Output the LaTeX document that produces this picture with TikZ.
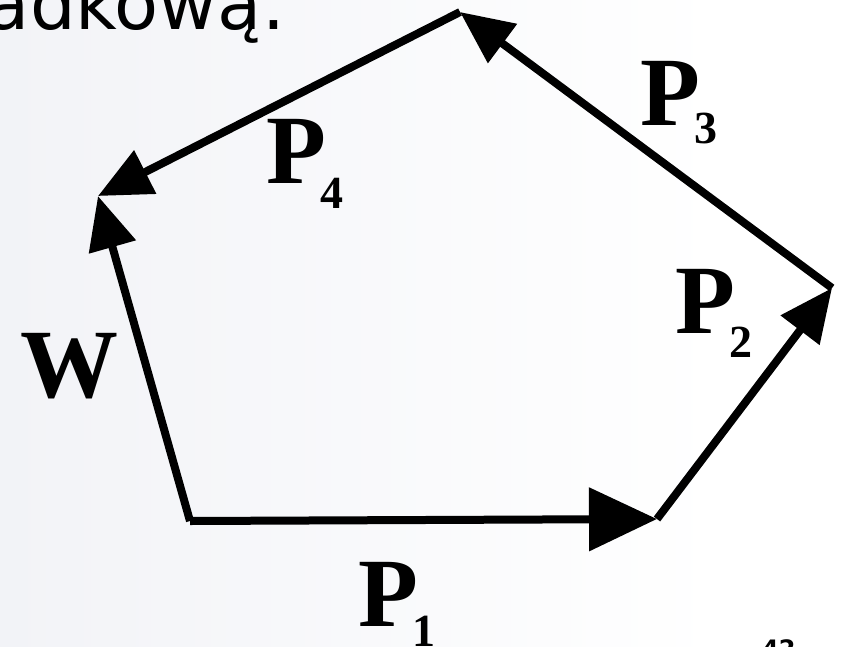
\documentclass[tikz,border=0pt]{standalone}
\usepackage{fontspec}
\usetikzlibrary{arrows.meta}
\newfontfamily\labfont{Liberation Serif}
\newfontfamily\txtfont{DejaVu Sans}
\definecolor{bgleft}{HTML}{F2F3F7}
\newcommand{\vlab}[3]{{\labfont\bfseries\fontsize{98}{98}\selectfont #1\kern-5pt\raisebox{-#3pt}{\fontsize{46}{46}\selectfont #2}}}
\begin{document}
\begin{tikzpicture}[x=1pt,y=-1pt,
  vec/.style={line width=8pt, -{Triangle[length=53pt,width=47pt]}},
  bigvec/.style={line width=8pt, -{Triangle[length=68pt,width=62pt]}},
  lab/.style={inner sep=0pt, outer sep=0pt, anchor=base west}]
\useasboundingbox (0,0) rectangle (851,646);
\clip (0,0) rectangle (851,646);
\shade[left color=bgleft, right color=white] (0,0) rectangle (720,646);
\fill[white] (720,0) rectangle (851,646);
% text
\node[inner sep=0pt, anchor=base east, font=\txtfont\fontsize{72}{72}\selectfont] (txt) at (285,29) {adkową.};
\node[inner sep=0pt, anchor=north west, font=\txtfont\bfseries\fontsize{24}{24}\selectfont] (num) at (762,639) {42};
% vertices
\coordinate (A) at (190,521);
\coordinate (B) at (657,519);
\coordinate (C) at (832,288);
\coordinate (D) at (460,12);
\coordinate (E) at (98,196);
% vectors
\draw[bigvec] (A) -- (B);
\draw[vec] (B) -- (C);
\draw[vec] (C) -- (D);
\draw[vec] (D) -- (E);
\draw[vec] (A) -- (E);
% labels
\node[lab] (l1) at (358,626) {\vlab{P}{1}{20}};
\node[lab] (l2) at (675,333) {\vlab{P}{2}{24}};
\node[lab] (l3) at (640,125) {\vlab{P}{3}{18}};
\node[lab] (l4) at (266,183) {\vlab{P}{4}{25}};
\node[lab] (lw) at (20,397) {{\labfont\bfseries\fontsize{98}{98}\selectfont W}};
\end{tikzpicture}
\end{document}
